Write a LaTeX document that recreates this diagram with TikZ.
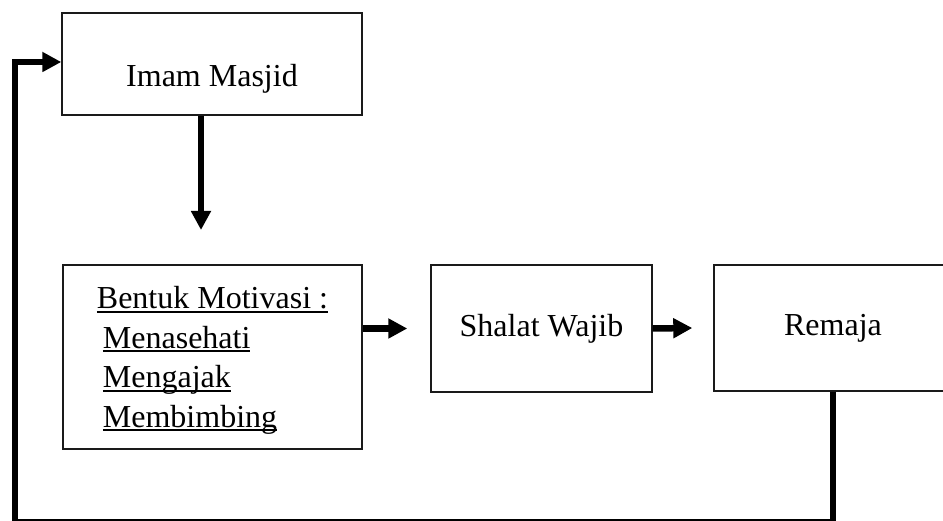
\documentclass[tikz,border=0pt]{standalone}
\usepackage{xcolor}
\usepackage{fontspec}
\setmainfont{Liberation Serif}
\usepackage{tikz}
\usetikzlibrary{
  arrows.meta,
  positioning,
  calc
}
\definecolor{mmLine}{HTML}{1A1A1A}
\newcommand{\mmfont}{\fontsize{32}{39.5}\selectfont}
\newsavebox{\mmulbox}
\newcommand{\mmul}[1]{\sbox{\mmulbox}{#1}\rlap{\rule[-3.8pt]{\wd\mmulbox}{1.8pt}}\usebox{\mmulbox}}
\tikzset{
  mmnode/.style={
    draw=mmLine, line width=1.4pt, inner sep=0pt,
    font=\mmfont, align=center
  },
  mmbox/.style={mmnode, fill=white},
  flowarrow/.style={-{Triangle[length=19pt, width=19pt]}, line width=6.5pt, black},
  loopline/.style={flowarrow, line join=miter}
}
\begin{document}
\begin{tikzpicture}[x=1pt, y=-1pt]
  \useasboundingbox (0,0) rectangle (943,521);
  \node[mmbox, minimum width=300pt, minimum height=102pt, text height=53pt, text depth=7pt] (imam) at (212,64) {Imam Masjid};
  \node[mmbox, minimum width=299pt, minimum height=184pt, align=left] (motivasi) at (212.5,357) {\rule{0pt}{29pt}\mmul{Bentuk Motivasi :}\\\hspace*{6pt}\mmul{Menasehati}\\\hspace*{6pt}\mmul{Mengajak}\\\hspace*{6pt}\mmul{Membimbing}};
  \node[mmbox, minimum width=221pt, minimum height=127pt] (shalat) at (541.5,328.5) {Shalat Wajib};
  \node[mmbox, minimum width=238pt, minimum height=126pt] (remaja) at (833,328) {Remaja};
  \coordinate (motivtip) at (201,230);
  \coordinate (loopcorner) at (15,522.5);
  \draw[flowarrow] (imam.south -| motivtip) -- (motivtip);
  \draw[flowarrow] (motivasi.east |- shalat.west) -- ([xshift=-23pt]shalat.west);
  \draw[flowarrow] (shalat.east) -- ([xshift=-21pt]remaja.west);
  \draw[loopline] (remaja.south) |- (loopcorner) |- ([yshift=2pt]imam.west);
\end{tikzpicture}
\end{document}
